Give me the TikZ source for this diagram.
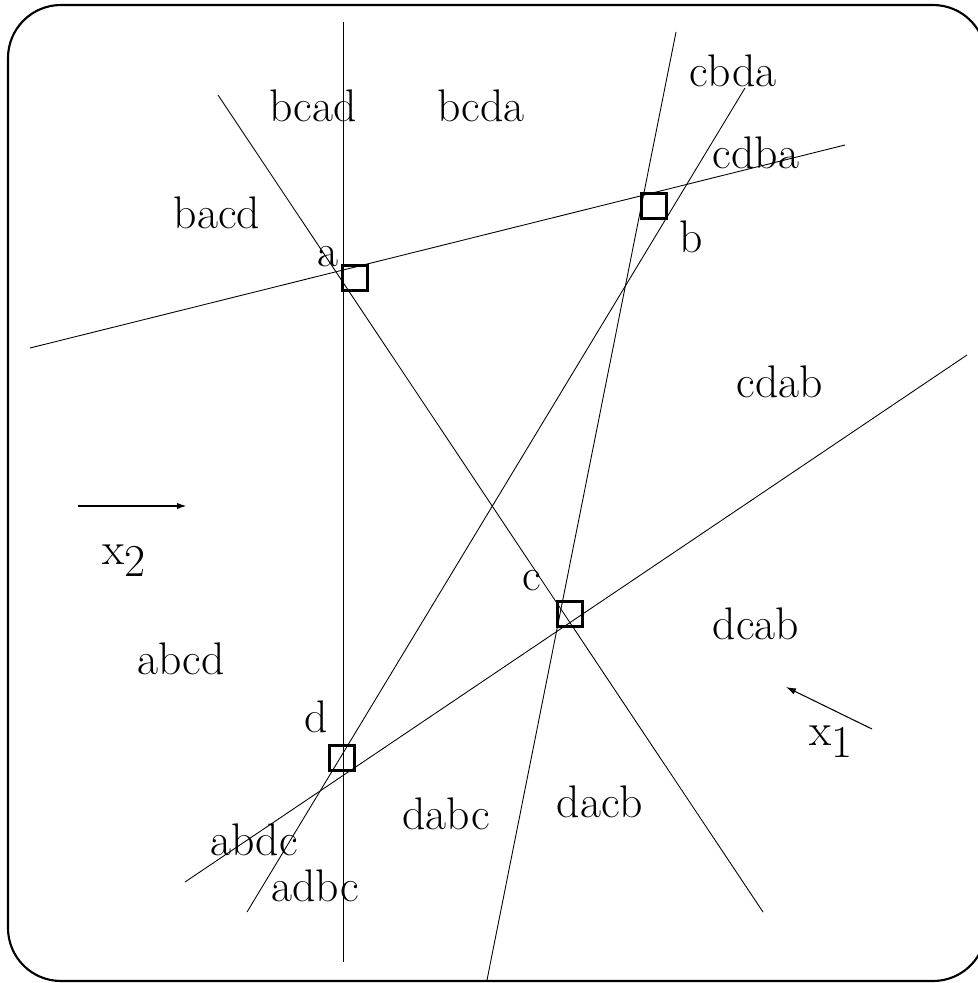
\documentclass[tikz,border=0pt]{standalone}
\usepackage{tikz}
\usetikzlibrary{arrows.meta}

\begin{document}
\begin{tikzpicture}[
  x=0.02cm,
  y=-0.02cm,
  every node/.style={
    font=\fontsize{26}{31}\selectfont
  },
  perm/.style={
    anchor=base
  },
  vertex/.style={
    draw,
    rectangle,
    inner sep=0pt,
    minimum size=0.5cm,
    line width=1.3pt
  },
  frame/.style={
    draw,
    line width=1.2pt,
    rounded corners=1.06cm
  },
  cut/.style={
    draw,
    line width=0.5pt
  },
  axis/.style={
    -{Latex[length=2mm,width=1.3mm]},
    draw
  }
]

\useasboundingbox (0,0) rectangle (977,983);
\draw[frame] (8,5) rectangle (986,981);

% Vertices
\node[vertex] (a) at (355,278) {};
\node[vertex] (b) at (654,206) {};
\node[vertex] (c) at (570,614) {};
\node[vertex] (d) at (342,758) {};

% Line ends
\coordinate (v1) at (343,22);
\coordinate (v2) at (343,962);
\coordinate (ac1) at (218,95);
\coordinate (ac2) at (763,912);
\coordinate (ab1) at (30,348);
\coordinate (ab2) at (845,145);
\coordinate (dc1) at (185,882);
\coordinate (dc2) at (967,355);
\coordinate (db1) at (247,912);
\coordinate (db2) at (745,88);
\coordinate (s1) at (487,980);
\coordinate (s2) at (676,32);

% Cuts
\draw[cut] (v1) -- (v2);
\draw[cut] (ac1) -- (ac2);
\draw[cut] (ab1) -- (ab2);
\draw[cut] (dc1) -- (dc2);
\draw[cut] (db1) -- (db2);
\draw[cut] (s1) -- (s2);

% Vertex labels
\node[perm] (la) at (328,266) {a};
\node[perm] (lb) at (691,253) {b};
\node[perm] (lc) at (532,590) {c};
\node[perm] (ld) at (316,732) {d};

% Region labels
\node[perm] (bcad) at (313,122) {bcad};
\node[perm] (bcda) at (481,122) {bcda};
\node[perm] (cbda) at (733,87) {cbda};
\node[perm] (cdba) at (756,169) {cdba};
\node[perm] (bacd) at (217,229) {bacd};
\node[perm] (cdab) at (780,397) {cdab};
\node[perm] (dcab) at (756,639) {dcab};
\node[perm] (abcd) at (181,674) {abcd};
\node[perm] (dabc) at (446,829) {dabc};
\node[perm] (dacb) at (600,817) {dacb};
\node[perm] (abdc) at (254,855) {abdc};
\node[perm] (adbc) at (315,901) {adbc};

% Directions
\coordinate (x2s) at (78,506);
\coordinate (x2e) at (187,506);
\coordinate (x1s) at (872,729);
\coordinate (x1e) at (786,687);
\draw[axis, line width=1.1pt] (x2s) -- (x2e);
\draw[axis, line width=0.6pt] (x1s) -- (x1e);
\node[perm] (lx2) at (124,564) {x\raisebox{-7pt}{2}};
\node[perm] (lx1) at (831,745) {x\raisebox{-7pt}{1}};

\end{tikzpicture}
\end{document}
